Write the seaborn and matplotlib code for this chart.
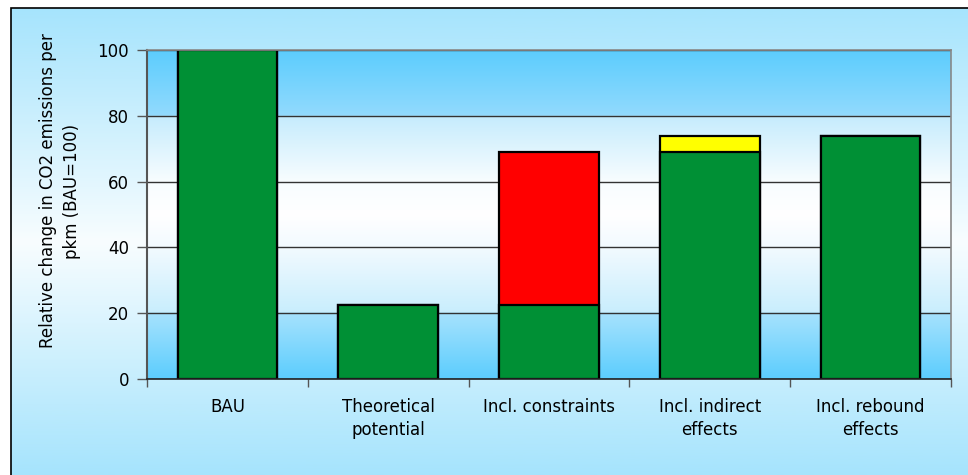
import numpy as np
import pandas as pd
import matplotlib
matplotlib.use("Agg")
import matplotlib.pyplot as plt
from matplotlib.colors import LinearSegmentedColormap
from matplotlib.patches import Rectangle
import seaborn as sns

# --- data ---
categories = ["BAU", "Theoretical\npotential", "Incl. constraints",
              "Incl. indirect\neffects", "Incl. rebound\neffects"]
base_values = [100, 22.5, 22.5, 69, 74]          # green part of each bar
extra_values = [0, 0, 46.5, 5, 0]                # stacked part on top
extra_colors = ["#009035", "#009035", "#ff0000", "#ffff00", "#009035"]
green = "#009035"
y_ticks = [0, 20, 40, 60, 80, 100]
y_label = "Relative change in CO2 emissions per\npkm (BAU=100)"

sns.set_theme(style="white")
plt.rcParams["font.family"] = ["DejaVu Sans"]

W, H = 968, 475
fig = plt.figure(figsize=(W / 100, H / 100), dpi=100, facecolor="white")

# outer panel: light blue -> white -> light blue, framed at top/left
bg = fig.add_axes([0, 0, 1, 1])
bg.set_facecolor("white")
bg_cmap = LinearSegmentedColormap.from_list(
    "bg", [(0.0, "#a6e4fd"), (0.15, "#bdebfd"), (0.50, "#f8fdff"), (0.85, "#bdebfd"), (1.0, "#a6e4fd")])
grad = np.linspace(0, 1, 512).reshape(-1, 1)
left, top = 11 / W, 1 - 8 / H
bg.imshow(grad, cmap=bg_cmap, aspect="auto", extent=[left, 1, 0, top], origin="upper")
bg.set_xlim(0, 1)
bg.set_ylim(0, 1)
bg.axis("off")
bg.add_patch(Rectangle((left, -0.05), 1.0, top + 0.05, fill=False,
                       edgecolor="black", linewidth=1.2))

ax = fig.add_axes([147 / W, 1 - 379 / H, (951 - 147) / W, (379 - 50) / H])
ax.set_facecolor("none")

# plot-area gradient (top of image = 100): banded blue-white-blue
e = 0.002
pa_cmap = LinearSegmentedColormap.from_list(
    "pa", [(0.0, "#5ccdfe"), (0.2 - e, "#92dafd"), (0.2 + e, "#c6ecfd"), (0.4, "#f8fdff"),
           (0.5, "#ffffff"), (0.6, "#f2faff"), (0.8 - e, "#c9eefd"), (0.8 + e, "#a6e2fd"),
           (1.0, "#5ccdfe")])
ax.imshow(grad, cmap=pa_cmap, aspect="auto", extent=[-0.5, 4.5, 0, 100],
          origin="upper", zorder=0)

df = pd.DataFrame({
    "category": categories,
    "total": np.array(base_values) + np.array(extra_values),
    "base": base_values,
})

bar_kw = dict(width=0.62, edgecolor="black", linewidth=1.6, saturation=1, legend=False)
# full height bars coloured by their top segment, then the green base over them
sns.barplot(data=df, x="category", y="total", hue="category",
            palette=dict(zip(categories, extra_colors)), ax=ax, zorder=2, **bar_kw)
sns.barplot(data=df, x="category", y="base", hue="category",
            palette=dict(zip(categories, [green] * len(categories))), ax=ax, zorder=3, **bar_kw)

ax.set_xlim(-0.5, 4.5)
ax.set_ylim(0, 100)
ax.set_yticks(y_ticks)
ax.yaxis.grid(True, color="#333333", linewidth=1.0)
ax.set_axisbelow(True)
for line in ax.get_ygridlines():
    line.set_zorder(1)

ax.tick_params(axis="y", left=True, length=7, width=1, color="#555555", pad=6,
               labelsize=12, labelcolor="black")
ax.tick_params(axis="x", bottom=False, length=0, pad=14, labelsize=12, labelcolor="black")
for lbl in ax.get_xticklabels():
    lbl.set_linespacing(1.3)
ax.set_xticks(np.arange(-0.5, 5, 1.0), minor=True)
ax.tick_params(axis="x", which="minor", bottom=True, length=6, width=1, color="#555555")

ax.set_xlabel("")
ax.set_ylabel("")
fig.text(60 / W, 1 - 191 / H, y_label, rotation=90, ha="center", va="center",
         fontsize=12, color="black", linespacing=1.45, multialignment="center")

for side in ["top", "right"]:
    ax.spines[side].set_visible(True)
    ax.spines[side].set_color("#888888")
    ax.spines[side].set_linewidth(1.2)
ax.spines["left"].set_color("#555555")
ax.spines["left"].set_linewidth(1.5)
ax.spines["bottom"].set_color("#222222")
ax.spines["bottom"].set_linewidth(1.2)
for s in ax.spines.values():
    s.set_zorder(5)

fig.savefig("out.png", dpi=100, facecolor="white")
